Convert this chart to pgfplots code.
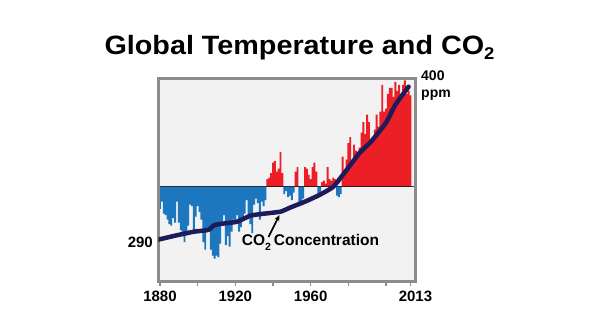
\documentclass[border=0pt]{standalone}
\usepackage{fontspec}
\setmainfont{Liberation Sans}
\usepackage{graphicx}
\usepackage{pgfplots}
\pgfplotsset{compat=1.18}
\usepackage{pgfplotstable}
\usetikzlibrary{arrows.meta}
\definecolor{bgc}{RGB}{242,242,242}
\definecolor{framec}{RGB}{140,140,140}
\definecolor{tblue}{RGB}{28,119,190}
\definecolor{tred}{RGB}{236,30,38}
\definecolor{navy}{RGB}{30,27,90}

\pgfplotstableread{
year pos neg
1880 0 -0.15
1881 0 -0.10
1882 0 -0.18
1883 0 -0.19
1884 0 -0.22
1885 0 -0.25
1886 0 -0.26
1887 0 -0.21
1888 0 -0.24
1889 0 -0.10
1890 0 -0.24
1891 0 -0.29
1892 0 -0.33
1893 0 -0.37
1894 0 -0.31
1895 0 -0.26
1896 0 -0.12
1897 0 -0.13
1898 0 -0.29
1899 0 -0.20
1900 0 -0.13
1901 0 -0.17
1902 0 -0.22
1903 0 -0.37
1904 0 -0.42
1905 0 -0.30
1906 0 -0.28
1907 0 -0.42
1908 0 -0.46
1909 0 -0.48
1910 0 -0.46
1911 0 -0.47
1912 0 -0.38
1913 0 -0.24
1914 0 -0.19
1915 0 -0.39
1916 0 -0.33
1917 0 -0.40
1918 0 -0.30
1919 0 -0.22
1920 0 -0.24
1921 0 -0.19
1922 0 -0.30
1923 0 -0.27
1924 0 -0.22
1925 0 -0.18
1926 0 -0.09
1927 0 -0.20
1928 0 -0.25
1929 0 -0.31
1930 0 -0.12
1931 0 -0.08
1932 0 -0.11
1933 0 -0.22
1934 0 -0.10
1935 0 -0.13
1936 0 -0.09
1937 0.05 0
1938 0.06 0
1939 0.09 0
1940 0.16 0
1941 0.17 0
1942 0.10 0
1943 0.12 0
1944 0.23 0
1945 0.09 0
1946 0 -0.05
1947 0 -0.03
1948 0 -0.07
1949 0 -0.06
1950 0 -0.09
1951 0 -0.04
1952 0.10 0
1953 0.13 0
1954 0 -0.13
1955 0 -0.12
1956 0 -0.08
1957 0.13 0
1958 0.12 0
1959 0.08 0
1960 0.05 0
1961 0.13 0
1962 0.16 0
1963 0.10 0
1964 0 -0.07
1965 0 -0.05
1966 0.03 0
1967 0.04 0
1968 0.02 0
1969 0.13 0
1970 0.05 0
1971 0.04 0
1972 0.06 0
1973 0.05 0
1974 0 -0.06
1975 0 -0.07
1976 0 -0.05
1977 0.20 0
1978 0.11 0
1979 0.18 0
1980 0.29 0
1981 0.33 0
1982 0.15 0
1983 0.28 0
1984 0.24 0
1985 0.20 0
1986 0.26 0
1987 0.36 0
1988 0.43 0
1989 0.35 0
1990 0.48 0
1991 0.43 0
1992 0.31 0
1993 0.33 0
1994 0.38 0
1995 0.48 0
1996 0.40 0
1997 0.50 0
1998 0.68 0
1999 0.50 0
2000 0.52 0
2001 0.62 0
2002 0.66 0
2003 0.66 0
2004 0.60 0
2005 0.70 0
2006 0.64 0
2007 0.68 0
2008 0.58 0
2009 0.68 0
2010 0.71 0
2011 0.62 0
2012 0.64 0
2013 0.61 0
}\temps

\pgfplotstableread{
year ppm
1879 290.0
1888 292.8
1898 295.6
1903 296.3
1906 297.0
1909 300.3
1915 301.5
1921 302.6
1928 306.8
1934 308.0
1944 309.6
1949 312.4
1957 316.6
1965 321.5
1972 327.0
1978 336.9
1986 350.8
1992 358.5
2000 371.8
2005 384.4
2012 397.0
}\co

\begin{document}
\begin{tikzpicture}[x=1pt,y=1pt]
\path[use as bounding box] (0,0) rectangle (596,336);
\begin{axis}[
  at={(158.3pt,54pt)}, anchor=south west,
  scale only axis, width=256.7pt, height=204pt,
  xmin=1879.1, xmax=2015.4, ymin=-0.635, ymax=0.725,
  axis background/.style={fill=bgc},
  axis line style={draw=framec, line width=3pt},
  axis on top,
  ytick=\empty,
  xtick pos=bottom,
  xtick={1880,1900,1920,1940,1960,1980,2000},
  xticklabels={1880,,1920,,1960,,},
  tick align=outside, major tick length=4pt,
  xtick style={draw=framec, line width=1.5pt},
  extra x ticks={2013}, extra x tick labels={2013},
  extra x tick style={tick style={draw=none}, xticklabel style={xshift=5pt}},
  xticklabel style={font=\fontsize{15}{18}\selectfont\bfseries, yshift=-1pt},
  /pgf/number format/assume math mode=true,
]
\addplot[ybar, bar width=1, bar shift=0pt, fill=tblue, draw=none] table[x=year,y=neg] {\temps};
\addplot[ybar, bar width=1, bar shift=0pt, fill=tred, draw=none] table[x=year,y=pos] {\temps};
\addplot[draw=black, opacity=0.75, line width=1.5pt] coordinates {(1870,0) (2020,0)};
\end{axis}
\begin{axis}[
  at={(158.3pt,54pt)}, anchor=south west,
  scale only axis, width=256.7pt, height=204pt,
  xmin=1879.1, xmax=2015.4, ymin=260.4, ymax=403.1,
  hide axis,
]
\addplot[draw=navy, line width=4.5pt, line cap=round, line join=round, smooth, tension=0.3] table[x=year,y=ppm] {\co};
\end{axis}
\node[anchor=base, inner sep=0pt] at (299.5,281.7) {\scalebox{1.085}[1]{\fontsize{26.5}{30}\selectfont\bfseries Global Temperature and CO\raisebox{-5.5pt}{\fontsize{17}{20}\selectfont 2}}};
\node[anchor=east, inner sep=0pt] at (153,93.7) {\fontsize{15}{18}\selectfont\bfseries 290};
\node[anchor=base west, inner sep=0pt] at (421,255.7) {\fontsize{14}{17}\selectfont\bfseries 400};
\node[anchor=base west, inner sep=0pt] at (421,238) {\fontsize{14}{17}\selectfont\bfseries ppm};
\node[anchor=base west, inner sep=0pt] at (241.7,90) {\fontsize{15.5}{18}\selectfont\bfseries CO\raisebox{-4.5pt}{\fontsize{10.5}{12}\selectfont 2}\hspace{3pt}Concentration};
\draw[-{Stealth[length=6pt,width=5pt]}, line width=1.6pt] (268.5,99) -- (279.5,121);
\end{tikzpicture}
\end{document}
